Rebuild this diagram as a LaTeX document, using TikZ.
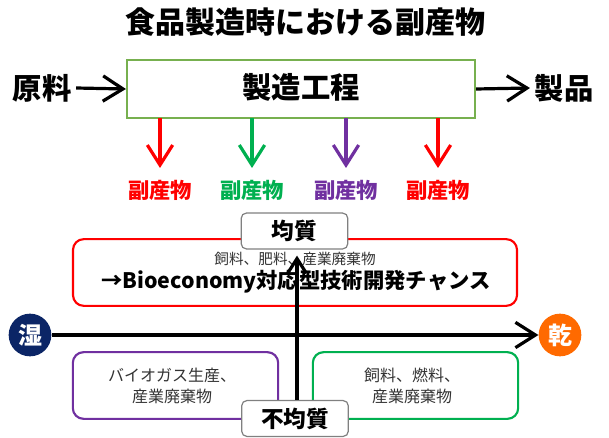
\documentclass[tikz,border=0pt]{standalone}
\usepackage{fontspec}
\setmainfont{Noto Sans CJK JP}
\usetikzlibrary{arrows.meta}
\definecolor{procgreen}{HTML}{77B04F}
\definecolor{bpred}{HTML}{FF0000}
\definecolor{bpgreen}{HTML}{00B050}
\definecolor{bppurple}{HTML}{7030A0}
\definecolor{wetblue}{HTML}{0B2566}
\definecolor{dryorange}{HTML}{FF6A00}
\definecolor{txtgray}{HTML}{333333}
\tikzset{
  flow/.style={line width=2.4pt, -{Straight Barb[length=15pt,width=19pt]}},
  upflow/.style={line width=2.4pt, -{Straight Barb[length=11pt,width=14pt]}},
  outbox/.style={draw, line width=1.6pt, rounded corners=8pt, minimum width=154pt, minimum height=50pt},
  tagbox/.style={draw=gray, line width=0.9pt, fill=white, rounded corners=4pt, minimum width=80pt, minimum height=27pt, font=\bfseries\fontsize{17}{20}\selectfont},
  bylabel/.style={font=\bfseries\fontsize{16}{19}\selectfont},
  bigtext/.style={font=\bfseries\fontsize{22}{26}\selectfont},
  smalltext/.style={text=txtgray, font=\fontsize{12}{15.5}\selectfont, align=center},
  pole/.style={circle, minimum size=32pt, inner sep=0pt, text=white, font=\bfseries\fontsize{18}{20}\selectfont}
}
\begin{document}
\begin{tikzpicture}[x=0.75pt,y=-0.75pt]
\useasboundingbox[fill=white] (0,0) rectangle (609,438);
% title
\node[font=\bfseries\fontsize{22.5}{27}\selectfont] (title) at (305,22) {食品製造時における副産物};
% process
\node[draw=procgreen, line width=1.6pt, minimum width=261pt, minimum height=43.5pt] (proc) at (301,89) {};
\node[bigtext] (proctext) at (301,87) {製造工程};
\node[bigtext] (raw) at (42,88) {原料};
\node[bigtext] (prod) at (564,88) {製品};
\draw[flow] (raw.east) -- (proc.west);
\draw[flow] (proc.east) -- (prod.west);
% byproducts
\coordinate (b1) at (160,118);
\coordinate (b2) at (252,118);
\coordinate (b3) at (346,118);
\coordinate (b4) at (438,118);
\coordinate (e1) at (160,168);
\coordinate (e2) at (252,168);
\coordinate (e3) at (346,168);
\coordinate (e4) at (438,168);
\node[bylabel, text=bpred] (l1) at (160,190) {副産物};
\node[bylabel, text=bpgreen] (l2) at (252,190) {副産物};
\node[bylabel, text=bppurple] (l3) at (346,190) {副産物};
\node[bylabel, text=bpred] (l4) at (438,190) {副産物};
\draw[flow, bpred] (b1) -- (e1);
\draw[flow, bpgreen] (b2) -- (e2);
\draw[flow, bppurple] (b3) -- (e3);
\draw[flow, bpred] (b4) -- (e4);
% boxes
\node[outbox, draw=bpred, minimum width=333pt, minimum height=50pt] (red) at (295,272.5) {};
\node[smalltext, font=\fontsize{11}{13}\selectfont] (redsmall) at (295,259) {飼料、肥料、産業廃棄物};
\node[font=\bfseries\fontsize{16}{19}\selectfont] (redbig) at (296,282) {→Bioeconomy対応型技術開発チャンス};
\node[outbox, draw=bppurple] (purple) at (175.5,385.5) {};
\node[smalltext] (ptext) at (172,386) {バイオガス生産、\\産業廃棄物};
\node[outbox, draw=bpgreen] (green) at (415.5,385.5) {};
\node[smalltext] (gtext) at (412,386) {飼料、燃料、\\産業廃棄物};
% axis
\node[pole, fill=wetblue] (wet) at (30,335) {湿};
\node[pole, fill=dryorange] (dry) at (560,335) {乾};
\draw[flow] (wet.east) -- (dry.west);
% tags
\coordinate (vx) at (297,0);
\node[tagbox] (homo) at (294.5,231) {均質};
\node[tagbox] (hetero) at (295,418.5) {不均質};
\draw[upflow] (hetero.north -| vx) -- ([yshift=-4.5pt]homo.south -| vx);
\end{tikzpicture}
\end{document}
